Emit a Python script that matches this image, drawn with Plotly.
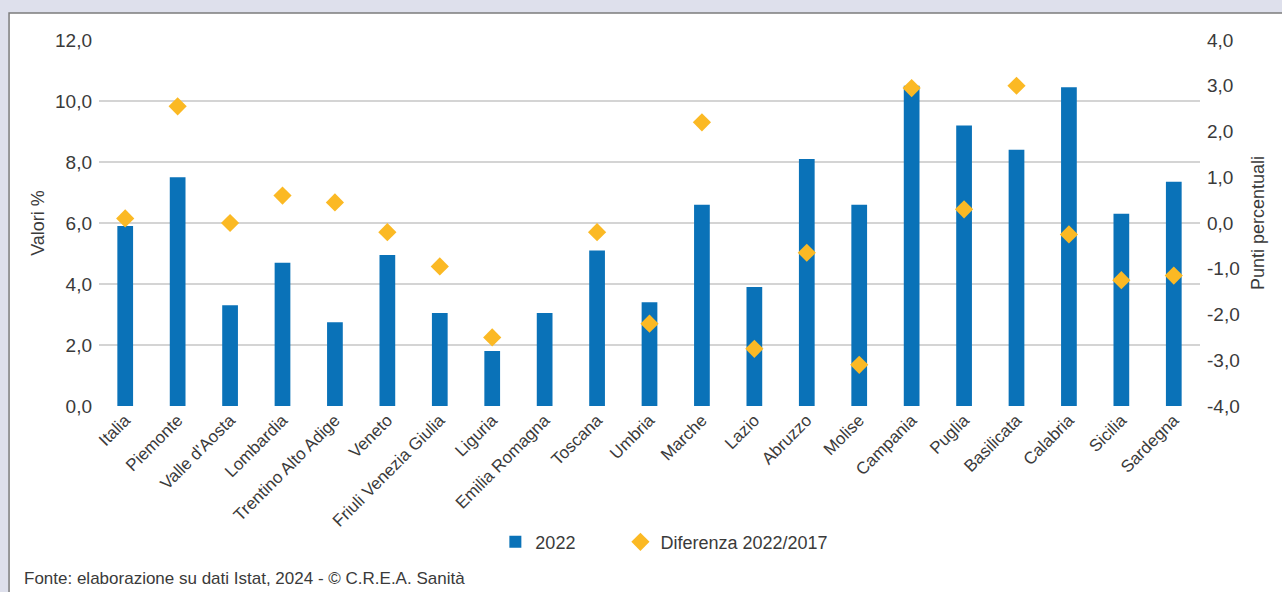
import plotly.graph_objects as go

regioni = ["Italia", "Piemonte", "Valle d'Aosta", "Lombardia", "Trentino Alto Adige",
           "Veneto", "Friuli Venezia Giulia", "Liguria", "Emilia Romagna", "Toscana",
           "Umbria", "Marche", "Lazio", "Abruzzo", "Molise", "Campania", "Puglia",
           "Basilicata", "Calabria", "Sicilia", "Sardegna"]
valori_2022 = [5.9, 7.5, 3.3, 4.7, 2.75, 4.95, 3.05, 1.8, 3.05, 5.1,
               3.4, 6.6, 3.9, 8.1, 6.6, 10.5, 9.2, 8.4, 10.45, 6.3, 7.35]
diff_2022_2017 = [0.1, 2.55, 0.0, 0.6, 0.45, -0.2, -0.95, -2.5, None, -0.2,
                  -2.2, 2.2, -2.75, -0.65, -3.1, 2.95, 0.3, 3.0, -0.25, -1.25, -1.15]

# right axis tick labels (plain hyphen as in the original)
tick_punti = [-4, -3, -2, -1, 0, 1, 2, 3, 4]
tick_punti_txt = ["-4,0", "-3,0", "-2,0", "-1,0", "0,0", "1,0", "2,0", "3,0", "4,0"]

FONT = "Liberation Sans, Arial, sans-serif"
TXT = "#3a3a3a"

fig = go.Figure()
# non-breaking spaces widen the first legend entry
fig.add_trace(go.Bar(x=regioni, y=valori_2022, name="2022" + "\u00a0" * 8, width=0.3,
                     marker=dict(color="#0a72b8", line=dict(width=0))))
fig.add_trace(go.Scatter(x=regioni, y=diff_2022_2017, name="Diferenza 2022/2017",
                         mode="markers", yaxis="y2",
                         marker=dict(symbol="diamond", size=14, color="#fbb924")))

fig.update_layout(
    width=1282, height=592,
    margin=dict(l=99, r=82, t=40, b=186),
    paper_bgcolor="#dee0ec",
    plot_bgcolor="white",
    separators=",.",
    font=dict(family=FONT, color=TXT, size=17),
    showlegend=True,
    legend=dict(orientation="h", x=0.36, xanchor="left", y=-0.372, yanchor="middle",
                font=dict(size=18), bgcolor="rgba(0,0,0,0)", itemwidth=30,
                tracegroupgap=0),
    xaxis=dict(tickangle=-45, tickfont=dict(size=17), showgrid=False,
               range=[-0.5, len(regioni) - 0.5],
               ticks="", showline=False, zeroline=False, automargin=False),
    yaxis=dict(range=[0, 12], dtick=2, tickformat=".1f", showgrid=True,
               gridcolor="#d4d4d4", gridwidth=1.5, zeroline=False,
               tickfont=dict(size=19), ticklabelstandoff=6, automargin=False,
               title=dict(text="Valori %", font=dict(size=18), standoff=5)),
    yaxis2=dict(range=[-4, 4], tickmode="array", tickvals=tick_punti,
                ticktext=tick_punti_txt, overlaying="y",
                side="right", showgrid=False, zeroline=False,
                tickfont=dict(size=19), ticklabelstandoff=6, automargin=False,
                title=dict(text="Punti percentuali", font=dict(size=18), standoff=12)),
    shapes=[dict(type="rect", xref="paper", yref="paper",
                 x0=-0.0817, x1=1.09, y0=-0.55, y1=1.0738,
                 fillcolor="white", line=dict(color="#7c7c7c", width=1.5),
                 layer="below")],
    annotations=[dict(text="Fonte: elaborazione su dati Istat, 2024 - © C.R.E.A. Sanità",
                      xref="paper", yref="paper", x=-0.0703, y=-0.47,
                      xanchor="left", yanchor="middle", showarrow=False,
                      font=dict(size=17, color=TXT))],
)

fig.write_html("out.html", config={"displayModeBar": False},
               post_script="document.body.style.margin='0';")
